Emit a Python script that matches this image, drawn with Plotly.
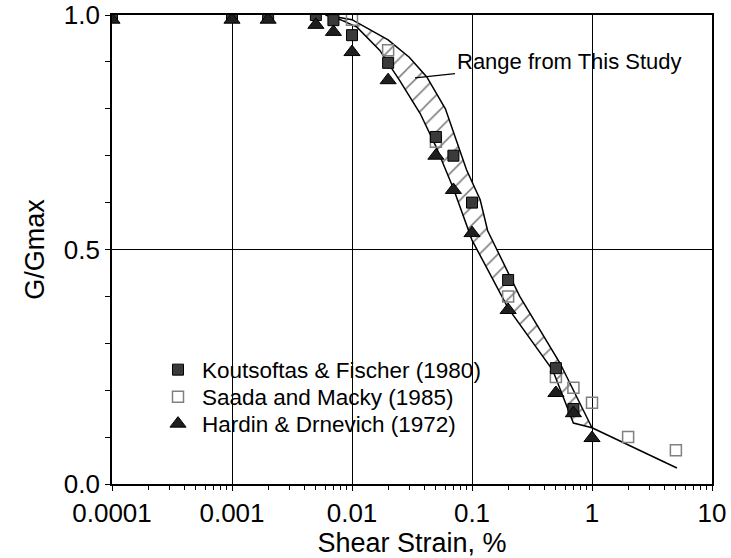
import plotly.graph_objects as go

# ---- data ----
kf_x = [0.0001, 0.001, 0.002, 0.005, 0.007, 0.01, 0.02, 0.05, 0.07, 0.1, 0.2, 0.5, 0.7]
kf_y = [1.0, 1.0, 1.0, 1.0, 0.989, 0.957, 0.898, 0.74, 0.70, 0.60, 0.435, 0.247, 0.16]

sm_x = [0.01, 0.02, 0.05, 0.2, 0.5, 0.7, 1.0, 2.0, 5.0]
sm_y = [0.99, 0.925, 0.73, 0.40, 0.228, 0.205, 0.173, 0.10, 0.072]

hd_x = [0.0001, 0.001, 0.002, 0.005, 0.007, 0.01, 0.02, 0.05, 0.07, 0.1, 0.2, 0.5, 0.7, 1.0]
hd_y = [0.99, 0.99, 0.99, 0.979, 0.964, 0.921, 0.861, 0.70, 0.627, 0.535, 0.371, 0.194, 0.151, 0.098]

# range from this study: upper (right) edge and lower (left) edge
band_upper_x = [0.006, 0.01, 0.02, 0.03, 0.042, 0.06, 0.09, 0.117, 0.135, 0.25, 0.54, 1.0]
band_upper_y = [1.0, 0.99, 0.947, 0.91, 0.868, 0.80, 0.67, 0.606, 0.54, 0.40, 0.258, 0.12]
band_lower_x = [0.006, 0.008, 0.011, 0.017, 0.025, 0.037, 0.05, 0.07, 0.1, 0.2, 0.47, 0.7]
band_lower_y = [1.0, 0.99, 0.974, 0.925, 0.86, 0.79, 0.72, 0.63, 0.52, 0.375, 0.243, 0.13]

tail_x = [1.0, 5.1]
tail_y = [0.12, 0.034]

x_tick_vals = [0.0001, 0.001, 0.01, 0.1, 1, 10]
x_tick_text = ["0.0001", "0.001", "0.01", "0.1", "1", "10"]
y_tick_vals = [0.0, 0.5, 1.0]
y_tick_text = ["0.0", "0.5", "1.0"]

FONT = "Liberation Sans, Arial, Helvetica, sans-serif"

band_x = band_upper_x + band_lower_x[::-1]
band_y = band_upper_y + band_lower_y[::-1]

fig = go.Figure()
fig.add_trace(go.Scatter(
    x=band_x, y=band_y, mode="lines", fill="toself",
    line=dict(color="black", width=1.5),
    fillcolor="white",
    fillpattern=dict(shape="/", fgcolor="black", bgcolor="white", size=13, solidity=0.12),
    showlegend=False, hoverinfo="skip"))
fig.add_trace(go.Scatter(
    x=tail_x, y=tail_y, mode="lines",
    line=dict(color="black", width=1.5), showlegend=False, hoverinfo="skip"))

fig.add_trace(go.Scatter(
    x=sm_x, y=sm_y, mode="markers", name="Saada and Macky (1985)", legend="legend2",
    marker=dict(symbol="square-open", size=11, color="#808080", line=dict(width=1.5, color="#808080"))))
fig.add_trace(go.Scatter(
    x=kf_x, y=kf_y, mode="markers", name="Koutsoftas & Fischer (1980)", legend="legend",
    marker=dict(symbol="square", size=11, color="#3a3a3a", line=dict(width=1, color="black"))))
fig.add_trace(go.Scatter(
    x=hd_x, y=hd_y, mode="markers", name="Hardin & Drnevich (1972)", legend="legend3",
    marker=dict(symbol="triangle-up", size=14, color="#1e1e1e", line=dict(width=1, color="black"))))

minor_x = [m * 10 ** e for e in range(-4, 1) for m in range(2, 10)]

fig.update_xaxes(
    type="log", range=[-4, 1], automargin=False, ticklabeloverflow="allow",
    tickmode="array", tickvals=x_tick_vals, ticktext=x_tick_text,
    ticks="outside", ticklen=5, tickwidth=1.3, tickcolor="black",
    showgrid=True, gridcolor="black", gridwidth=1.3,
    showline=True, linecolor="black", linewidth=1.6, mirror=True,
    zeroline=False,
    minor=dict(tickmode="array", tickvals=minor_x, ticks="outside", ticklen=4,
               tickwidth=1.2, tickcolor="black", showgrid=False),
    tickfont=dict(family=FONT, size=26, color="black"),
    title=dict(text="Shear Strain, %", font=dict(family=FONT, size=27, color="black"), standoff=2),
)
fig.update_yaxes(
    range=[0, 1], automargin=False, ticklabeloverflow="allow",
    tickmode="array", tickvals=y_tick_vals, ticktext=y_tick_text,
    ticks="outside", ticklen=5, tickwidth=1.3, tickcolor="black",
    showgrid=True, gridcolor="black", gridwidth=1.3,
    showline=True, linecolor="black", linewidth=1.6, mirror=True,
    zeroline=False,
    minor=dict(dtick=0.1, ticks="outside", ticklen=5, tickwidth=1.2, tickcolor="black", showgrid=False),
    tickfont=dict(family=FONT, size=26, color="black"),
    title=dict(text="G/Gmax", font=dict(family=FONT, size=27, color="black"), standoff=11),
)

fig.add_annotation(
    x=-1.475, y=0.866, xref="x", yref="y",
    text="Range from This Study", showarrow=True,
    ax=154, ay=-16, arrowhead=0, arrowwidth=1.2, arrowcolor="black", standoff=0,
    font=dict(family=FONT, size=22, color="black"))

legend_common = dict(x=0.07, xanchor="left", yanchor="middle",
                     bgcolor="rgba(255,255,255,0)", borderwidth=0,
                     font=dict(family=FONT, size=22.5, color="black"),
                     itemwidth=38, itemsizing="trace")

fig.update_layout(
    width=731, height=558,
    margin=dict(l=112, r=19, t=15, b=74),
    paper_bgcolor="white", plot_bgcolor="white",
    font=dict(family=FONT, color="black"),
    legend=dict(y=(484 - 370) / 469, **legend_common),
    legend2=dict(y=(484 - 397) / 469, **legend_common),
    legend3=dict(y=(484 - 424) / 469, **legend_common),
)

fig.write_html(
    "out.html",
    config={"displayModeBar": False},
    post_script="document.body.style.margin='0';document.body.style.overflow='hidden';",
)
